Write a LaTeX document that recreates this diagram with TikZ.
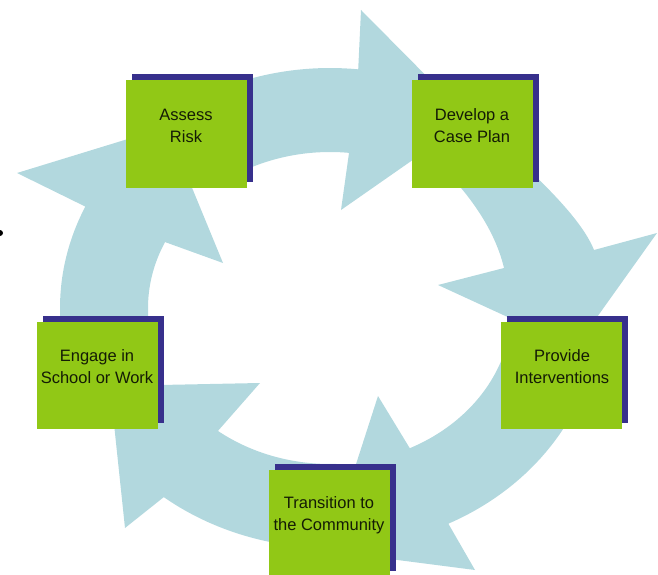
\documentclass[tikz,border=0pt]{standalone}
\usepackage{fontspec}
\setmainfont{Liberation Sans}
\usetikzlibrary{shadows}
\definecolor{arrowblue}{RGB}{178,216,222}
\definecolor{boxgreen}{RGB}{145,200,22}
\definecolor{shadowblue}{RGB}{55,48,140}
\definecolor{textdark}{RGB}{20,28,5}
\tikzset{
  cyclebox/.style={fill=boxgreen, draw=none, minimum width=121pt, minimum height=107pt, inner sep=0pt,
    general shadow={fill=shadowblue, shadow xshift=6pt, shadow yshift=6pt}},
  cyclelabel/.style={align=center, text=textdark, inner sep=0pt, font=\fontsize{16.5}{22}\selectfont},
  arrowband/.style={fill=arrowblue, draw=none}
}
\begin{document}
\begin{tikzpicture}[x=1pt,y=-1pt]
\useasboundingbox (0,0) rectangle (658,575);
% small bullet fragment at the left edge
\fill[black] (0,233) circle[radius=3pt];
% ---- circular arrows (ellipse centre (330,308)) ----
% Engage -> Assess
\fill[arrowband] plot[domain=168:205, samples=30] ({330+270*cos(\x)},{308+240*sin(\x)})
  -- (17,173) -- (167,127) -- (223,263)
  -- plot[domain=205:168, samples=30] ({330+182*cos(\x)},{308+156*sin(\x)}) -- cycle;
% Assess -> Develop
\fill[arrowband] plot[domain=235:276, samples=30] ({330+270*cos(\x)},{308+240*sin(\x)})
  -- (361,10) -- (470,120) -- (341,210)
  -- plot[domain=276:235, samples=30] ({330+182*cos(\x)},{308+156*sin(\x)}) -- cycle;
% Develop -> Provide
\fill[arrowband] (480,125) .. controls (530,170) and (580,215) .. (594,250)
  -- (657,233) -- (575,348) -- (438,285)
  -- (504,268) .. controls (495,230) and (470,195) .. (440,165) -- cycle;
% Provide -> Transition
\fill[arrowband] plot[domain=15:64, samples=30] ({330+270*cos(\x)},{308+240*sin(\x)})
  -- (475,570) -- (328,551) -- (378,396)
  -- plot[domain=64:15, samples=30] ({330+182*cos(\x)},{308+156*sin(\x)}) -- cycle;
% Transition -> Engage
\fill[arrowband] plot[domain=88:128, samples=30] ({330+270*cos(\x)},{308+240*sin(\x)})
  -- (125,528) -- (110,386) -- (260,383)
  -- plot[domain=128:88, samples=30] ({330+182*cos(\x)},{308+156*sin(\x)}) -- cycle;
% ---- boxes ----
\node[cyclebox] (assess) at (186.5,134) {};
\node[cyclebox] (develop) at (472.5,134) {};
\node[cyclebox] (provide) at (561.5,375) {};
\node[cyclebox] (engage) at (97,375) {};
\node[cyclebox] (transition) at (329,523.5) {};
% ---- labels ----
\node[cyclelabel] (assess-t) at (186,126) {Assess\\Risk};
\node[cyclelabel] (develop-t) at (472,126) {Develop a\\Case Plan};
\node[cyclelabel] (provide-t) at (562,367) {Provide\\Interventions};
\node[cyclelabel] (engage-t) at (97,367) {Engage in\\School or Work};
\node[cyclelabel] (transition-t) at (329,515) {Transition to\\the Community};
\end{tikzpicture}
\end{document}
